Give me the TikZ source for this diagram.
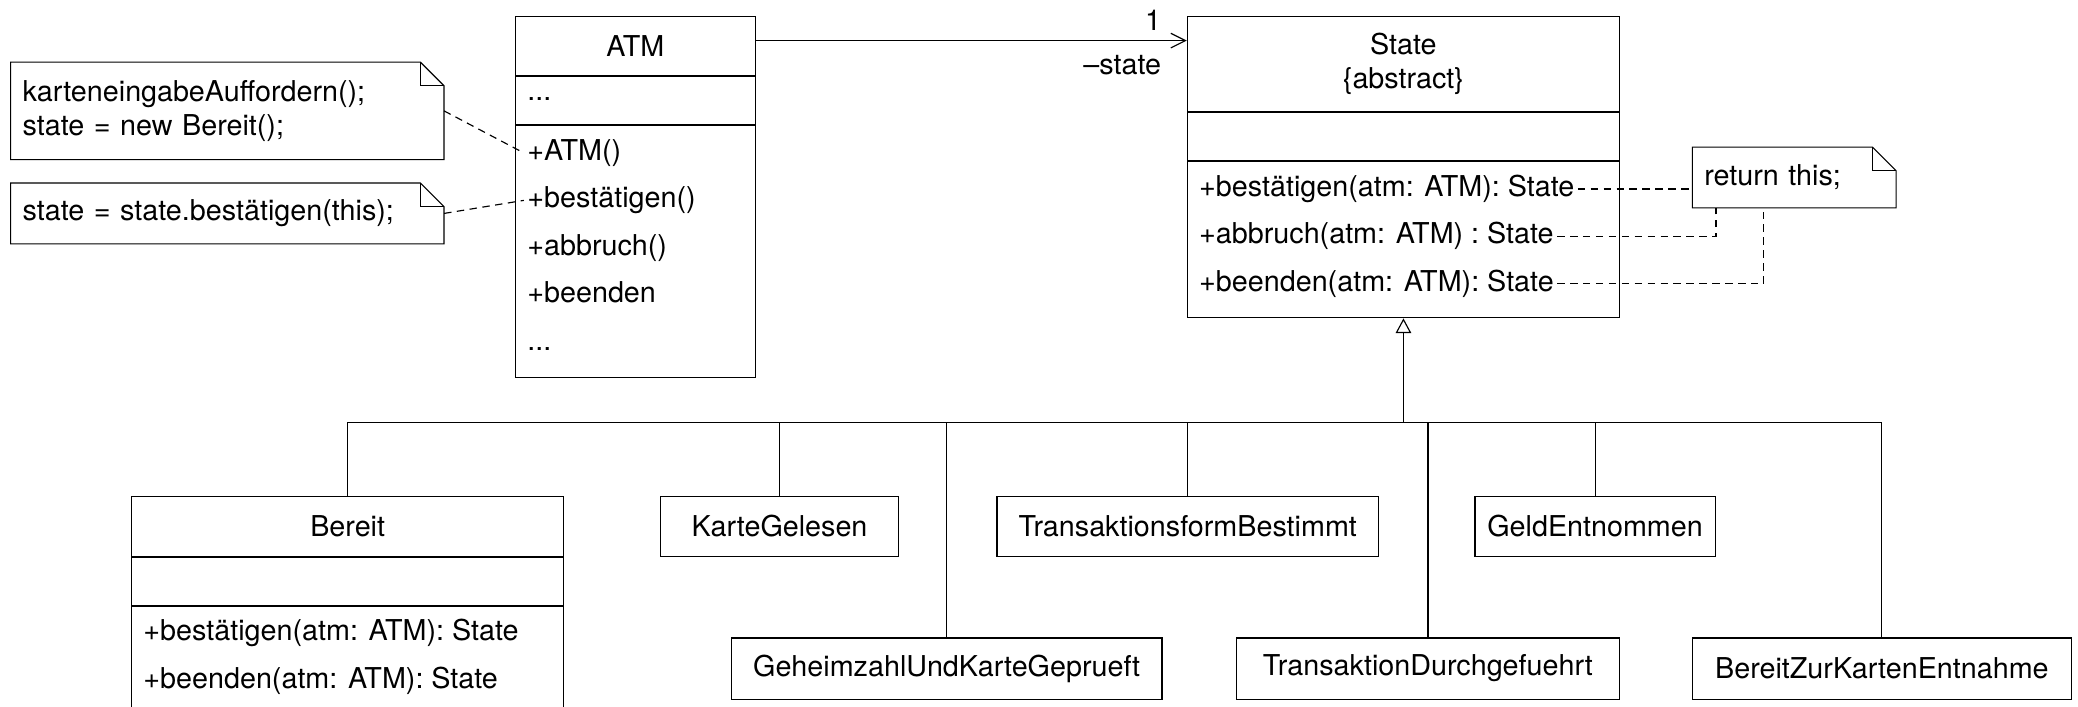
\documentclass[tikz,border=0pt]{standalone}
\usepackage{fontspec}
\setmainfont{TeX Gyre Heros}
\usetikzlibrary{arrows.meta,positioning}
\tikzset
{
    classhead/.style = {draw=black, align=center, minimum height=0.73cm, anchor=north},
    compart/.style   = {draw=black, minimum height=0.584cm},
    op/.style        = {anchor=west, inner xsep=1pt, inner ysep=0pt, text height=0.72em, text depth=0.2em},
    notebox/.style   = {anchor=north west, align=left, inner xsep=0.14cm, inner ysep=0pt},
    dep/.style       = {dash pattern=on 2.6pt off 1.9pt},
    gen/.style       = {-{Triangle[open,length=1.8mm,width=1.9mm]}},
    assoc/.style     = {-{Straight Barb[length=1.8mm,width=1.8mm]}}
}

\begin{document}
\begin{tikzpicture}
\path[use as bounding box, clip] (0,0) rectangle (25.43,-8.64);
% ATM
\node [classhead, minimum width=2.935cm] at (7.776,-0.19) (atm) {ATM};
\node [compart, minimum width=2.935cm, below=0pt of atm] (atm-attr) {};
\node [compart, minimum width=2.935cm, minimum height=3.08cm, below=0pt of atm-attr] (atm-ops) {};
\node [op] at ([shift={(0.11,-0.2)}]atm-attr.north west) (atm-dots) {...};
\node [op] at ([shift={(0.11,-0.34)}]atm-ops.north west) (atm-ctor) {+ATM()};
\node [op] at ([yshift=-0.58cm]atm-ctor.west) (atm-ok) {+bestätigen()};
\node [op] at ([yshift=-0.58cm]atm-ok.west) (atm-cancel) {+abbruch()};
\node [op] at ([yshift=-0.58cm]atm-cancel.west) (atm-end) {+beenden};
\node [op] at ([yshift=-0.58cm]atm-end.west) (atm-more) {...};
% State
\node [classhead, minimum width=5.29cm, minimum height=1.17cm] at (17.175,-0.19) (state) {State\\\{abstract\}};
\node [compart, minimum width=5.29cm, below=0pt of state] (state-attr) {};
\node [compart, minimum width=5.29cm, minimum height=1.91cm, below=0pt of state-attr] (state-ops) {};
\node [op] at ([shift={(0.11,-0.34)}]state-ops.north west) (st-ok) {+bestätigen(atm: ATM): State};
\node [op] at ([yshift=-0.58cm]st-ok.west) (st-cancel) {+abbruch(atm: ATM) : State};
\node [op] at ([yshift=-0.58cm]st-cancel.west) (st-end) {+beenden(atm: ATM): State};
% notes
\node [notebox, text width=5.01cm, minimum height=1.18cm] at (0.13,-0.76) (note-ctor) {karteneingabeAuffordern();\\state = new Bereit();};
\node [notebox, text width=5.01cm, minimum height=0.73cm] at (0.13,-2.24) (note-ok) {state = state.bestätigen(this);};
\node [notebox, text width=2.20cm, minimum height=0.73cm] at (20.71,-1.80) (note-ret) {return this;};
\foreach \n in {note-ctor,note-ok,note-ret}
{
    \draw (\n.north west) -- ([xshift=-0.29cm]\n.north east) -- ([yshift=-0.29cm]\n.north east) -- (\n.south east) -- (\n.south west) -- cycle;
    \draw ([xshift=-0.29cm]\n.north east) |- ([yshift=-0.29cm]\n.north east);
}
\draw [dep] (note-ctor.east) -- (atm-ctor.west);
\draw [dep] (note-ok.east) -- (atm-ok.west);
\draw [dep] (st-ok.east) -- (st-ok.east -| note-ret.west);
\draw [dep] (st-cancel.east) -| ([xshift=0.29cm]note-ret.south west);
\draw [dep] (st-end.east) -| ([xshift=0.875cm]note-ret.south west);
% association
\draw [assoc] ([yshift=0.065cm]atm.east) -- ([yshift=0.065cm]atm.east -| state.west)
    node [pos=1, above left, xshift=-0.19cm] (mult) {1}
    node [pos=1, below left, xshift=-0.19cm, yshift=-0.06cm] (role) {--state};
% subclasses
\node [classhead, minimum width=5.29cm] at (4.255,-6.07) (bereit) {Bereit};
\node [compart, minimum width=5.29cm, below=0pt of bereit] (bereit-attr) {};
\node [compart, minimum width=5.29cm, minimum height=1.91cm, below=0pt of bereit-attr] (bereit-ops) {};
\node [op] at ([shift={(0.11,-0.34)}]bereit-ops.north west) (br-ok) {+bestätigen(atm: ATM): State};
\node [op] at ([yshift=-0.58cm]br-ok.west) (br-end) {+beenden(atm: ATM): State};
\node [classhead, minimum width=2.92cm] at (9.54,-6.07) (kg) {KarteGelesen};
\node [classhead, minimum width=4.67cm] at (14.535,-6.07) (tfb) {TransaktionsformBestimmt};
\node [classhead, minimum width=2.94cm] at (19.52,-6.07) (ge) {GeldEntnommen};
\node [classhead, minimum width=5.27cm, minimum height=0.75cm] at (11.585,-7.80) (gukg) {GeheimzahlUndKarteGeprueft};
\node [classhead, minimum width=4.69cm, minimum height=0.75cm] at (17.475,-7.80) (td) {TransaktionDurchgefuehrt};
\node [classhead, minimum width=4.64cm, minimum height=0.75cm] at (23.03,-7.80) (bzke) {BereitZurKartenEntnahme};
% generalization
\coordinate (bus) at (17.175,-5.17);
\draw [gen] (bus) -- (state-ops.south);
\foreach \c in {bereit,kg,tfb,ge,gukg,td,bzke}
    \draw (\c.north) |- (bus);
\end{tikzpicture}
\end{document}
